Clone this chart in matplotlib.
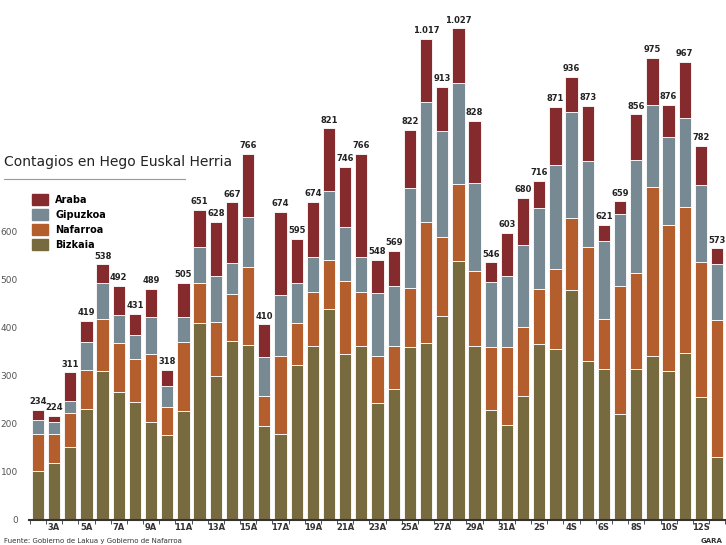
import matplotlib
matplotlib.use("Agg")
import matplotlib.pyplot as plt
import numpy as np

days = ["2A","3A","4A","5A","6A","7A","8A","9A","10A","11A","12A","13A","14A","15A","16A","17A","18A","19A","20A","21A","22A",
        "23A","24A","25A","26A","27A","28A","29A","30A","31A","1S","2S","3S","4S","5S","6S","7S","8S","9S","10S","11S","12S","13S"]
bizkaia = [101,119,152,230,309,266,245,203,176,226,410,299,372,365,195,178,323,362,439,345,362,
           243,272,361,368,424,539,362,229,197,258,366,356,479,331,315,221,315,342,309,348,255,130]
nafarroa = [78,60,70,82,110,103,90,142,59,144,84,112,99,161,64,163,87,112,102,153,112,
            99,91,121,253,164,161,156,130,162,143,115,166,149,237,103,266,198,350,304,304,281,286]
gipuzkoa = [29,24,26,58,75,57,50,78,43,52,74,97,63,105,81,128,84,74,144,112,74,
            131,123,209,249,222,210,184,136,149,171,169,217,222,180,162,149,237,171,185,184,162,117]
araba = [21,14,59,44,38,61,43,58,35,72,77,113,127,130,67,172,91,114,130,125,213,
         68,74,121,132,92,113,128,41,90,98,56,121,72,113,34,27,94,99,65,117,81,32]
totals = ["234","224","311","419","538","492","431","489","318","505","651","628","667","766","410","674","595","674","821","746","766",
          "548","569","822","1.017","913","1.027","828","546","603","680","716","871","936","873","621","659","856","975","876","967","782","573"]

colors = {"Bizkaia": "#766a3e", "Nafarroa": "#b35e2c", "Gipuzkoa": "#778a93", "Araba": "#852a2d"}

fig = plt.figure(figsize=(7.26, 5.45), dpi=100)
ax = fig.add_axes([0.04, 0.046, 0.96, 0.952])
x = np.arange(len(days))
w = 0.76
b = np.zeros(len(days))
for name, vals in [("Bizkaia", bizkaia), ("Nafarroa", nafarroa), ("Gipuzkoa", gipuzkoa), ("Araba", araba)]:
    v = np.array(vals)
    ax.bar(x, v, w, bottom=b, color=colors[name], edgecolor="white", linewidth=0.6, label=name)
    b += v
for xi, top, t in zip(x, b, totals):
    ax.text(xi, top + 8, t, ha="center", va="bottom", fontsize=6, fontweight="bold", color="#222222")

ax.set_xlim(-0.55, len(days) - 0.45)
ax.set_ylim(0, 1080)
for s in ["top", "right", "left"]:
    ax.spines[s].set_visible(False)
ax.spines["bottom"].set_linewidth(1.5)
ax.spines["bottom"].set_color("#333333")
ax.set_yticks(range(0, 700, 100))
ax.tick_params(axis="y", length=0, labelsize=6.5, labelcolor="#555555", pad=8)
ax.set_xticks(x[1::2])
ax.set_xticklabels(days[1::2], fontsize=6, fontweight="bold", color="#333333")
ax.set_xticks(np.arange(-0.5, len(days), 1.0), minor=True)
ax.tick_params(axis="x", which="major", length=0, pad=2, color="#333333")
ax.tick_params(axis="x", which="minor", length=3, color="#333333")

fig.text(0.006, 0.69, "Contagios en Hego Euskal Herria", fontsize=10, color="#222222", va="bottom")
fig.add_artist(plt.Line2D([0.006, 0.255], [0.672, 0.672], color="#999999", linewidth=0.8))
leg_names = ["Araba", "Gipuzkoa", "Nafarroa", "Bizkaia"]
handles = [plt.Rectangle((0, 0), 1, 1, color=colors[n]) for n in leg_names]
fig.legend(handles, leg_names, loc="upper left", bbox_to_anchor=(0.032, 0.66), frameon=False,
           prop={"size": 7, "weight": "bold"}, handlelength=1.6, handleheight=1.3, labelspacing=0.45)
fig.text(0.006, 0.004, "Fuente: Gobierno de Lakua y Gobierno de Nafarroa", fontsize=5, color="#333333")
fig.text(0.995, 0.004, "GARA", fontsize=5, fontweight="bold", color="#333333", ha="right")
fig.savefig("out.png", dpi=100)
